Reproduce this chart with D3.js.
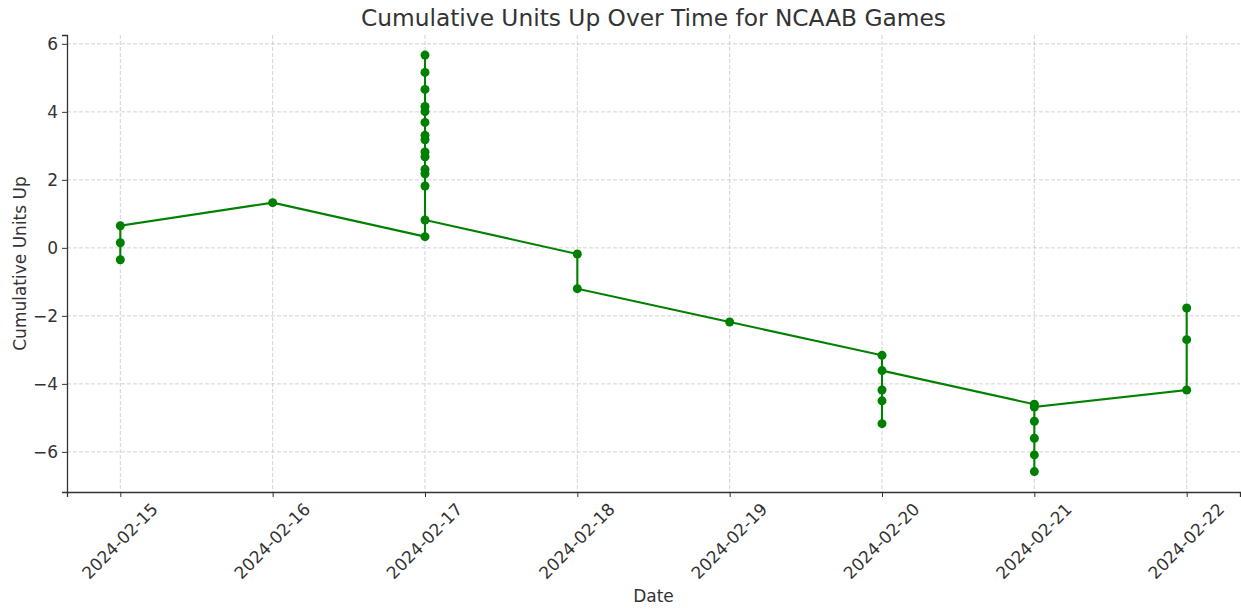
<!DOCTYPE html>
<html>
<head>
<meta charset="utf-8">
<script src="https://cdn.jsdelivr.net/npm/d3@7"></script>
<style>
  body { margin: 0; background: #fff; }
  svg text { font-family: "DejaVu Sans", sans-serif; fill: #333; }
</style>
</head>
<body>
<div id="chart"></div>
<script>
// one entry per game, in the order they were played
const gameDates = [
  "2024-02-15", "2024-02-15", "2024-02-15",
  "2024-02-16",
  "2024-02-17", "2024-02-17", "2024-02-17", "2024-02-17", "2024-02-17",
  "2024-02-17", "2024-02-17", "2024-02-17", "2024-02-17", "2024-02-17",
  "2024-02-17", "2024-02-17", "2024-02-17", "2024-02-17", "2024-02-17",
  "2024-02-18", "2024-02-18",
  "2024-02-19",
  "2024-02-20", "2024-02-20", "2024-02-20", "2024-02-20", "2024-02-20",
  "2024-02-21", "2024-02-21", "2024-02-21", "2024-02-21", "2024-02-21", "2024-02-21",
  "2024-02-22", "2024-02-22", "2024-02-22"
];
const cumUnits = [
  -0.35, 0.15, 0.65,
  1.33,
  0.33, 1.82, 2.31, 2.82, 3.31, 4.16, 5.16, 5.67,
  4.66, 4.01, 3.69, 3.18, 2.68, 2.18, 0.82,
  -0.18, -1.2,
  -2.18,
  -3.16, -4.18, -5.17, -4.5, -3.61,
  -4.6, -5.1, -5.6, -6.09, -6.58, -4.68,
  -4.18, -2.7, -1.77
];
const tickDates = ["2024-02-15", "2024-02-16", "2024-02-17", "2024-02-18",
                   "2024-02-19", "2024-02-20", "2024-02-21", "2024-02-22"];
const yTicks = [-6, -4, -2, 0, 2, 4, 6];

const W = 1241, H = 609;
const margin = { top: 35, right: 1, bottom: 117, left: 67 };
const width = W - margin.left - margin.right;
const height = H - margin.top - margin.bottom;

const parse = d3.utcParse("%Y-%m-%d");
const fmt = d3.utcFormat("%Y-%m-%d");
const data = gameDates.map((d, i) => ({ date: parse(d), value: cumUnits[i] }));

const day = 24 * 3600 * 1000;
const x = d3.scaleUtc()
  .domain([new Date(parse(tickDates[0]) - 0.35 * day), new Date(+parse(tickDates[7]) + 0.35 * day)])
  .range([0, width]);
const y = d3.scaleLinear()
  .domain([-7.18, 6.26])
  .range([height, 0]);

const svg = d3.select("#chart").append("svg")
  .attr("width", W).attr("height", H);

const g = svg.append("g")
  .attr("transform", "translate(" + margin.left + "," + margin.top + ")");

// grid
g.append("g").selectAll("line")
  .data(tickDates)
  .join("line")
  .attr("x1", d => x(parse(d))).attr("x2", d => x(parse(d)))
  .attr("y1", 0).attr("y2", height)
  .attr("stroke", "#c8c8c8").attr("stroke-width", 0.8)
  .attr("stroke-dasharray", "4,2");
g.append("g").selectAll("line")
  .data(yTicks)
  .join("line")
  .attr("x1", 0).attr("x2", width)
  .attr("y1", d => y(d)).attr("y2", d => y(d))
  .attr("stroke", "#c8c8c8").attr("stroke-width", 0.8)
  .attr("stroke-dasharray", "4,2");

// axes
const xAxis = g.append("g")
  .attr("transform", "translate(0," + height + ")")
  .call(d3.axisBottom(x).tickValues(tickDates.map(parse)).tickFormat(fmt).tickSizeOuter(0).tickSize(5));
xAxis.select(".domain").attr("stroke", "#333").attr("stroke-width", 1.3);
xAxis.selectAll(".tick line").attr("stroke", "#333");
xAxis.selectAll(".tick text")
  .attr("font-size", 17)
  .attr("fill", "#333")
  .attr("text-anchor", "middle")
  .attr("dy", null)
  .attr("y", 0)
  .attr("dominant-baseline", "central")
  .attr("transform", "translate(-1,49) rotate(-45)");

const yAxis = g.append("g")
  .call(d3.axisLeft(y).tickValues(yTicks).tickFormat(d => d < 0 ? "\u2212" + Math.abs(d) : d).tickSizeOuter(0).tickSize(5));
yAxis.select(".domain").attr("stroke", "#333").attr("stroke-width", 1.3);
yAxis.selectAll(".tick line").attr("stroke", "#333");
yAxis.selectAll(".tick text")
  .attr("font-size", 17)
  .attr("fill", "#333")
  .attr("x", -9);

// line and markers
const line = d3.line()
  .x(d => x(d.date))
  .y(d => y(d.value));

g.append("path")
  .datum(data)
  .attr("fill", "none")
  .attr("stroke", "green")
  .attr("stroke-width", 2.1)
  .attr("d", line);

g.append("g").selectAll("circle")
  .data(data)
  .join("circle")
  .attr("cx", d => x(d.date))
  .attr("cy", d => y(d.value))
  .attr("r", 4.5)
  .attr("fill", "green");

// labels
svg.append("text")
  .attr("x", margin.left + width / 2).attr("y", 26)
  .attr("text-anchor", "middle")
  .attr("font-size", 23.3)
  .text("Cumulative Units Up Over Time for NCAAB Games");

svg.append("text")
  .attr("x", margin.left + width / 2).attr("y", 602)
  .attr("text-anchor", "middle")
  .attr("font-size", 17)
  .text("Date");

svg.append("text")
  .attr("transform", "translate(26," + (margin.top + height / 2) + ") rotate(-90)")
  .attr("text-anchor", "middle")
  .attr("font-size", 17)
  .text("Cumulative Units Up");
</script>
</body>
</html>
